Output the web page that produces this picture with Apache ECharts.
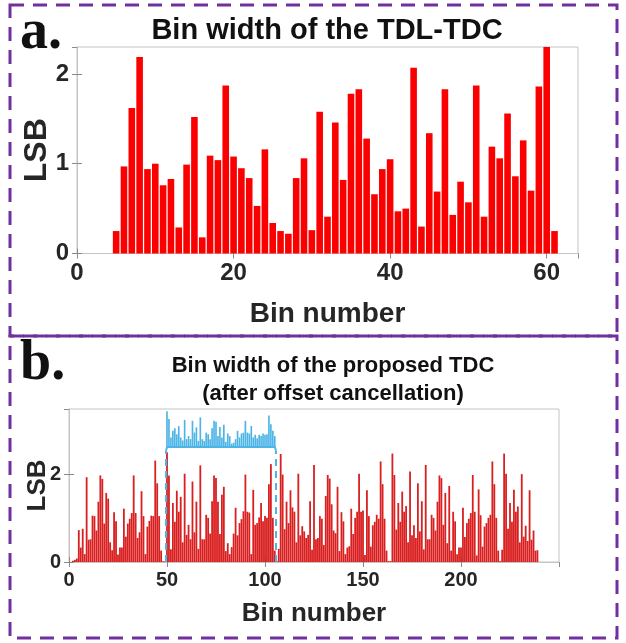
<!DOCTYPE html>
<html>
<head>
<meta charset="utf-8">
<script src="https://cdn.jsdelivr.net/npm/echarts@6/dist/echarts.min.js"></script>
<style>
html,body{margin:0;padding:0;background:#fff;}
#chart{width:626px;height:643px;}
</style>
</head>
<body>
<div id="chart"></div>
<script>
// ---------- DATA ----------
// Panel a: TDL-TDC bin widths (LSB), bins start at 5
const startBinA = 5;
const valuesA = [0.25,0.97,1.62,2.19,0.94,1.00,0.76,0.83,0.29,0.99,1.52,0.18,1.09,1.04,1.87,1.08,0.95,0.84,0.53,1.16,
  0.34,0.25,0.22,0.84,1.06,0.26,1.58,0.41,1.46,0.82,1.78,1.83,1.28,0.66,0.94,1.05,0.47,0.50,2.07,0.30,
  1.34,0.69,1.83,0.43,0.80,0.57,1.87,0.41,1.19,1.06,1.56,0.86,1.26,0.70,1.86,2.30,0.25];
const xTicksA = [0,20,40,60];
const yTicksA = [0,1,2];

// Panel b: proposed TDC bin widths (LSB), bins start at 1
const startBinB = 1;
const valuesB = [
  0,0.03,0.05,0.08,0.73,0.33,0.76,0.18,1.94,0.51,
  0.52,1.06,1.05,0.72,1.38,1.98,1.90,0.88,1.58,1.45,
  0.45,0.27,1.14,0.93,0.17,0.33,0.33,1.22,0.58,0.88,
  0.99,1.12,1.98,1.12,0.55,0.68,1.62,1.05,0.18,0.81,
  0.94,1.06,1.05,2.32,1.80,1.05,0.26,0.02,0.02,
  2.51,1.98,0.29,1.35,0.92,1.63,1.15,1.49,0.45,2.02,
  0.62,0.85,0.52,1.84,0.68,1.38,0.30,2.21,0.52,0.52,
  1.08,1.01,0.65,1.39,1.98,1.92,1.38,0.64,1.54,1.72,
  0.25,0.43,0.18,0.34,0.65,1.24,0.61,0.89,0.98,1.16,
  2.00,1.15,1.13,0.18,1.65,0.85,0.89,1.02,1.35,0.93,
  1.05,1.01,1.78,2.24,1.01,0.26,0.02,
  0.30,2.47,2.00,0.75,1.38,0.89,1.64,1.25,1.15,0.45,
  2.02,0.61,0.82,0.70,0.55,0.62,1.39,0.28,2.22,0.52,
  0.55,1.05,0.99,0.39,1.51,1.99,1.91,1.32,0.72,0.66,
  1.72,0.25,1.14,0.93,0.18,0.33,0.36,1.22,0.64,1.01,
  1.15,2.02,1.15,1.18,0.16,1.64,1.05,0.35,0.84,0.92,
  1.08,0.99,2.30,1.78,0.99,0.26,0.02,
  0.02,2.48,1.99,0.74,1.35,0.92,1.61,1.15,1.28,0.45,2.07,
  0.61,0.84,0.55,1.80,0.70,1.39,0.29,2.22,0.52,0.52,
  1.08,1.01,0.72,1.38,1.98,1.92,0.85,1.58,0.43,1.74,
  0.26,1.15,0.93,0.18,0.33,0.33,1.24,0.57,0.89,0.99,
  1.12,1.99,1.15,0.15,1.66,1.07,0.35,0.81,0.89,1.01,
  1.08,2.30,1.78,1.01,0.26,0.02,
  0.28,2.48,2.02,0.76,1.35,0.92,1.65,1.15,1.27,0.45,
  2.01,0.58,0.83,0.48,1.64,0.51,0.72,0.26,0.27];
const xTicksB = [0,50,100,150,200,250];
const yTicksB = [0,2];

// Inset (blue): zoomed bins 50..105 drawn above a bracket level
const startBinInset = 50;
const valuesInset = [0.82,0.64,0.22,0.37,0.43,0.29,0.48,0.22,0.15,0.62,
  0.18,0.25,0.18,0.60,0.33,0.45,0.14,0.68,0.18,0.14,
  0.33,0.29,0.18,0.43,0.60,0.58,0.25,0.46,0.22,0.51,
  0.12,0.31,0.25,0.08,0.10,0.18,0.37,0.22,0.31,0.33,
  0.60,0.33,0.31,0.48,0.22,0.28,0.20,0.28,0.25,0.31,
  0.28,0.29,0.72,0.52,0.37,0.25];
const insetLevel = 2.63;
const bracketX = [49.5, 105.6];
const bracketCorner = 2.55;

// ---------- STYLE ----------
const FONT = "'Liberation Sans', Arial, sans-serif";
const AX_LINE = '#c4c4c4';
const TICK = '#8a8a8a';
const LABEL = '#262626';
const RED_A = '#fb0000';
const RED_B = '#d91f1f';
const BLUE = '#4cb5e6';

function pairs(start, vals) { return vals.map((v, i) => [start + i, v]); }
function fmt(list) { return function (v) { return list.indexOf(v) >= 0 ? String(v) : ''; }; }

function xAxisPair(gridIndex, max, step, ticks, fs, name, gap, nfs) {
  const common = {
    gridIndex: gridIndex, type: 'value', min: 0, max: max, interval: step,
    axisLine: { show: true, lineStyle: { color: AX_LINE, width: 1 } },
    axisTick: { show: true, inside: true, length: 5, lineStyle: { color: TICK } },
    splitLine: { show: false }
  };
  return [
    Object.assign({}, common, {
      position: 'bottom',
      axisLabel: { show: true, formatter: fmt(ticks), color: LABEL, fontFamily: FONT, fontWeight: 'bold', fontSize: fs, margin: 8, showMaxLabel: false },
      name: name, nameLocation: 'middle', nameGap: gap,
      nameTextStyle: { color: LABEL, fontFamily: FONT, fontWeight: 'bold', fontSize: nfs }
    }),
    Object.assign({}, common, { position: 'top', axisLabel: { show: false } })
  ];
}
function yAxisPair(gridIndex, max, step, ticks, fs, gap, nfs) {
  const common = {
    gridIndex: gridIndex, type: 'value', min: 0, max: max, interval: step,
    axisLine: { show: true, lineStyle: { color: AX_LINE, width: 1 } },
    axisTick: { show: true, inside: true, length: 5, lineStyle: { color: TICK } },
    splitLine: { show: false }
  };
  return [
    Object.assign({}, common, {
      position: 'left',
      axisLabel: { show: true, formatter: fmt(ticks), color: LABEL, fontFamily: FONT, fontWeight: 'bold', fontSize: fs, margin: 8, showMaxLabel: false },
      name: 'LSB', nameLocation: 'middle', nameGap: gap, nameRotate: 90, nameMoveOverlap: false,
      nameTextStyle: { color: LABEL, fontFamily: FONT, fontWeight: 'bold', fontSize: nfs }
    }),
    Object.assign({}, common, { position: 'right', axisLabel: { show: false } })
  ];
}

const xA = xAxisPair(0, 64, 20, xTicksA, 24, 'Bin number', 47, 28);
const xB = xAxisPair(1, 250, 50, xTicksB, 20, 'Bin number', 39, 26);
const yA = yAxisPair(0, 2.3, 1, yTicksA, 24, 24, 32);
const yB = yAxisPair(1, 3.5, 2, yTicksB, 20, 18, 26);

function insetRender(params, api) {
  const x = api.value(0);
  const v = api.value(1);
  const top = api.coord([x, insetLevel + v]);
  const base = api.coord([x, insetLevel]);
  const w = api.size([1, 0])[0] * 0.85;
  return {
    type: 'rect',
    shape: { x: top[0] - w / 2, y: top[1], width: w, height: base[1] - top[1] },
    style: { fill: BLUE }
  };
}

const option = {
  animation: false,
  backgroundColor: '#ffffff',
  title: [
    { text: 'Bin width of the TDL-TDC', left: 322, top: 11, textAlign: 'center',
      textStyle: { fontFamily: FONT, fontWeight: 'bold', fontSize: 29, color: '#111' } },
    { text: 'Bin width of the proposed TDC\n(after offset cancellation)', left: 328, top: 347, textAlign: 'center',
      textStyle: { fontFamily: FONT, fontWeight: 'bold', fontSize: 22, lineHeight: 28, color: '#111' } }
  ],
  grid: [
    { left: 77, right: 48, top: 47, height: 206.5, show: true, borderColor: AX_LINE, borderWidth: 1, backgroundColor: '#fff' },
    { left: 69, right: 67, top: 409, height: 153, show: true, borderColor: AX_LINE, borderWidth: 1, backgroundColor: '#fff' }
  ],
  xAxis: [xA[0], xA[1], xB[0], xB[1]],
  yAxis: [yA[0], yA[1], yB[0], yB[1]],
  series: [
    { type: 'bar', name: 'TDL-TDC', xAxisIndex: 0, yAxisIndex: 0, barWidth: 6.6,
      itemStyle: { color: RED_A }, data: pairs(startBinA, valuesA) },
    { type: 'bar', name: 'Proposed', xAxisIndex: 2, yAxisIndex: 2, barWidth: 1.8,
      itemStyle: { color: RED_B }, data: pairs(startBinB, valuesB) },
    { type: 'custom', name: 'Inset', xAxisIndex: 2, yAxisIndex: 2, renderItem: insetRender,
      encode: { x: 0, y: 1 }, data: pairs(startBinInset, valuesInset), z: 4 },
    { type: 'line', name: 'bracket', xAxisIndex: 2, yAxisIndex: 2, symbol: 'none', z: 5,
      lineStyle: { color: BLUE, width: 2 },
      data: [[bracketX[0], bracketCorner], [bracketX[0] + 0.6, insetLevel], [bracketX[1] - 0.6, insetLevel], [bracketX[1], bracketCorner]] },
    { type: 'line', name: 'leftDash', xAxisIndex: 2, yAxisIndex: 2, symbol: 'none', z: 5,
      lineStyle: { color: BLUE, width: 2, type: [7, 5] },
      data: [[bracketX[0], 0], [bracketX[0], bracketCorner]] },
    { type: 'line', name: 'rightDash', xAxisIndex: 2, yAxisIndex: 2, symbol: 'none', z: 5,
      lineStyle: { color: BLUE, width: 2, type: [7, 5] },
      data: [[bracketX[1], 0], [bracketX[1], bracketCorner]] }
  ],
  graphic: [
    { type: 'rect', shape: { x: 10, y: 5, width: 607, height: 331 }, z: 100,
      style: { fill: 'none', stroke: '#7030a0', lineWidth: 3, lineDash: [14, 9] } },
    { type: 'rect', shape: { x: 10, y: 336, width: 607, height: 302 }, z: 100,
      style: { fill: 'none', stroke: '#7030a0', lineWidth: 3, lineDash: [14, 9] } },
    { type: 'text', left: 20, top: 6, z: 101,
      style: { text: 'a.', font: "bold 56px 'Liberation Serif', 'Times New Roman', serif", fill: '#111' } },
    { type: 'text', left: 20, top: 337, z: 101,
      style: { text: 'b.', font: "bold 56px 'Liberation Serif', 'Times New Roman', serif", fill: '#111' } }
  ]
};

const chart = echarts.init(document.getElementById('chart'), null, { renderer: 'canvas' });
chart.setOption(option);
</script>
</body>
</html>
